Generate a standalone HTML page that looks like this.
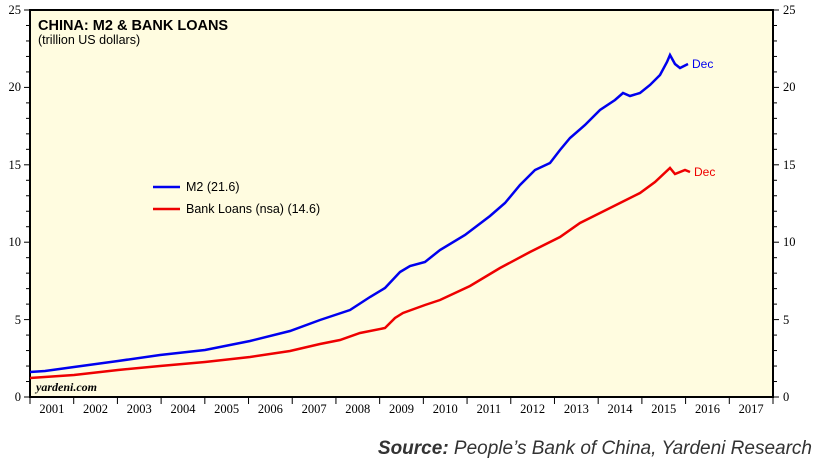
<!DOCTYPE html>
<html><head><style>
body{margin:0;background:#fff;width:815px;height:459px;overflow:hidden}
</style></head><body>
<svg width="815" height="459" xmlns="http://www.w3.org/2000/svg">
<rect x="30" y="10" width="743" height="387" fill="#fffce0" stroke="#000" stroke-width="2"/>
<g stroke="#000" stroke-width="1">
<line x1="24" y1="10" x2="30" y2="10"/><line x1="24" y1="87.4" x2="30" y2="87.4"/><line x1="24" y1="164.8" x2="30" y2="164.8"/><line x1="24" y1="242.2" x2="30" y2="242.2"/><line x1="24" y1="319.6" x2="30" y2="319.6"/><line x1="24" y1="397" x2="30" y2="397"/>
<line x1="773" y1="10" x2="779" y2="10"/><line x1="773" y1="87.4" x2="779" y2="87.4"/><line x1="773" y1="164.8" x2="779" y2="164.8"/><line x1="773" y1="242.2" x2="779" y2="242.2"/><line x1="773" y1="319.6" x2="779" y2="319.6"/><line x1="773" y1="397" x2="779" y2="397"/>
</g>
<g id="minor" stroke="#000" stroke-width="1"></g>
<g font-family="Liberation Serif,serif" font-size="12.5" fill="#000">
<text x="21" y="14" text-anchor="end">25</text><text x="21" y="91" text-anchor="end">20</text><text x="21" y="169" text-anchor="end">15</text><text x="21" y="246" text-anchor="end">10</text><text x="21" y="324" text-anchor="end">5</text><text x="21" y="401" text-anchor="end">0</text>
<text x="783" y="14">25</text><text x="783" y="91">20</text><text x="783" y="169">15</text><text x="783" y="246">10</text><text x="783" y="324">5</text><text x="783" y="401">0</text>
</g>
<g id="xt" font-family="Liberation Serif,serif" font-size="12.5" text-anchor="middle"></g>
<text x="38" y="30" font-family="Liberation Sans,sans-serif" font-weight="bold" font-size="14.5">CHINA: M2 &amp; BANK LOANS</text>
<text x="38" y="44" font-family="Liberation Sans,sans-serif" font-size="12.5">(trillion US dollars)</text>
<text x="36" y="391" font-family="Liberation Serif,serif" font-style="italic" font-weight="bold" font-size="12">yardeni.com</text>
<polyline fill="none" stroke="#0000ee" stroke-width="2.5" points="30,372 45,371 74,367 118,361 160,355 205,350 250,341 290,331 320,320 350,310 370,297 385,288 400,272 410,266 425,262 440,250 465,235 490,216 505,203 520,185 535,170 550,163 560,150 570,138 585,125 600,110 615,100 623,93 630,96 640,93 650,85 660,75 667,62 670,55 675,64 680,68 688,64"/>
<polyline fill="none" stroke="#ee0000" stroke-width="2.5" points="30,378 74,375 118,370 160,366 205,362 250,357 290,351 320,344 340,340 360,333 385,328 395,318 403,313 425,305 440,300 470,286 500,268 530,252 560,237 580,223 600,213 620,203 640,193 655,182 670,168 675,174 685,170 690,172"/>
<text x="692" y="68" font-family="Liberation Sans,sans-serif" font-size="12" fill="#0000ee">Dec</text>
<text x="694" y="176" font-family="Liberation Sans,sans-serif" font-size="12" fill="#ee0000">Dec</text>
<line x1="153" y1="187" x2="180" y2="187" stroke="#0000ee" stroke-width="2.5"/>
<line x1="153" y1="209" x2="180" y2="209" stroke="#ee0000" stroke-width="2.5"/>
<text x="186" y="191" font-family="Liberation Sans,sans-serif" font-size="12.5">M2 (21.6)</text>
<text x="186" y="213" font-family="Liberation Sans,sans-serif" font-size="12.5">Bank Loans (nsa) (14.6)</text>
<text x="812" y="454" text-anchor="end" font-family="Liberation Sans,sans-serif" font-style="italic" font-size="19" fill="#333"><tspan font-weight="bold">Source:</tspan> People’s Bank of China, Yardeni Research</text>
</svg>
<script>
var ns="http://www.w3.org/2000/svg",m=document.getElementById("minor"),xt=document.getElementById("xt");
for(var v=1;v<25;v++){if(v%5==0)continue;var y=397-v*15.48;
[[26,30],[773,777]].forEach(function(p){var l=document.createElementNS(ns,"line");l.setAttribute("x1",p[0]);l.setAttribute("x2",p[1]);l.setAttribute("y1",y);l.setAttribute("y2",y);m.appendChild(l);});}
for(var i=0;i<=17;i++){var x=30+i*743/17;var l=document.createElementNS(ns,"line");l.setAttribute("x1",x);l.setAttribute("x2",x);l.setAttribute("y1",397);l.setAttribute("y2",404);m.appendChild(l);
if(i<17){var t=document.createElementNS(ns,"text");t.setAttribute("x",x+743/34);t.setAttribute("y",413);t.textContent=2001+i;xt.appendChild(t);}}
</script>
</body></html>
